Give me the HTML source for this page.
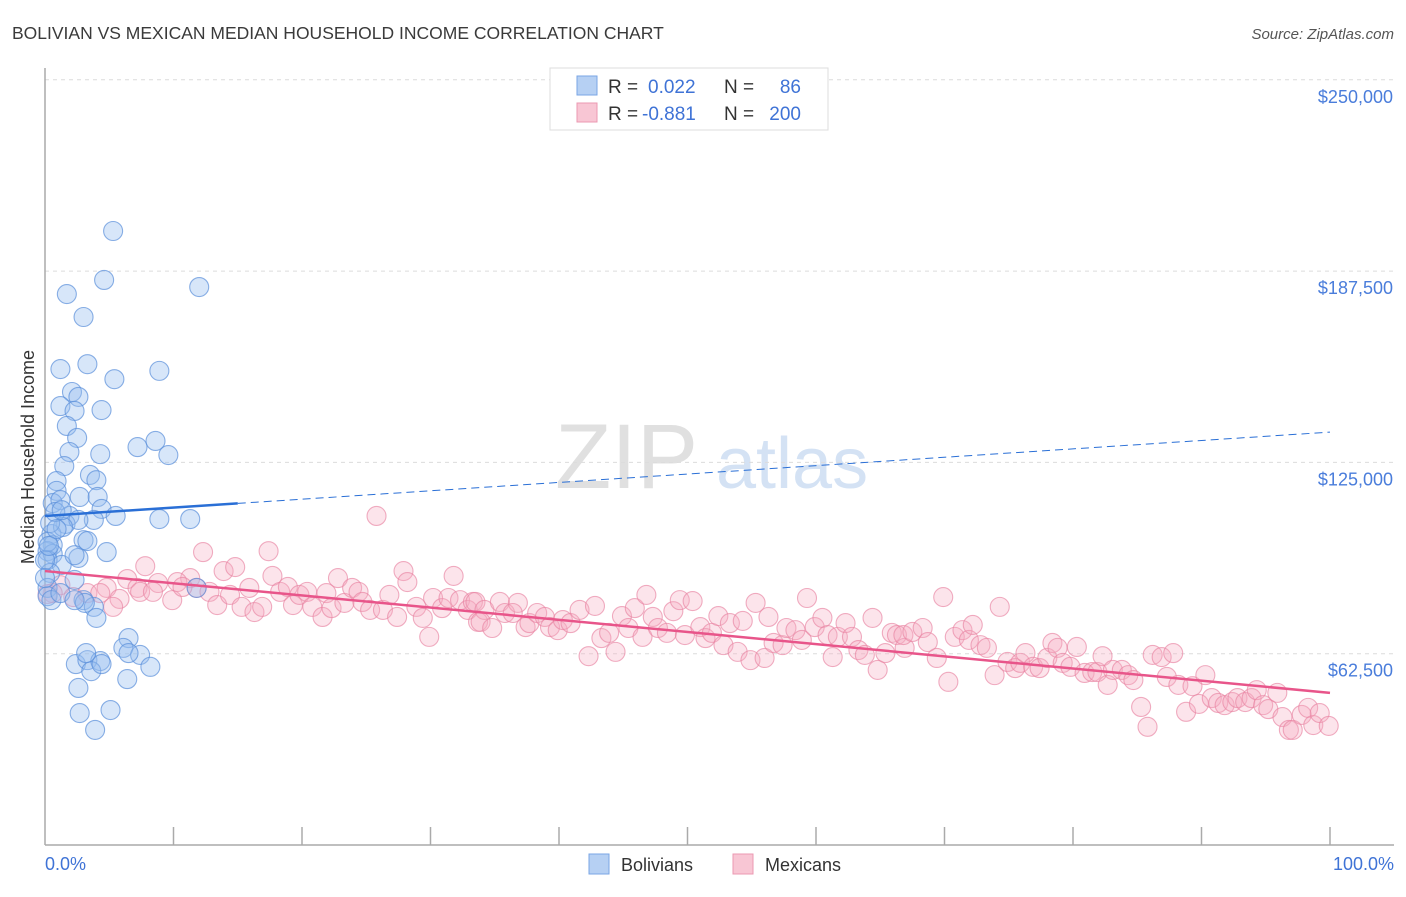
<!DOCTYPE html>
<html><head><meta charset="utf-8"><style>
body{margin:0;background:#fff;font-family:"Liberation Sans",sans-serif;}
svg text{font-family:"Liberation Sans",sans-serif;}
</style></head><body>
<svg id="chart" width="1406" height="892" viewBox="0 0 1406 892" xmlns="http://www.w3.org/2000/svg">
<text x="12" y="39" font-size="17.5" fill="#3a3a3a">BOLIVIAN VS MEXICAN MEDIAN HOUSEHOLD INCOME CORRELATION CHART</text>
<text x="1394" y="39" font-size="15" fill="#555" font-style="italic" text-anchor="end">Source: ZipAtlas.com</text>
<g>
<text x="555" y="488" font-size="92" fill="#d4d4d4" font-family="Liberation Serif" opacity="0.7">ZIP</text>
<text x="716" y="488" font-size="72" fill="#b8d0ee" opacity="0.6">atlas</text>
</g>
<g id="grid"></g>
<g id="axes"></g>
<g id="marks"></g>
<text transform="translate(34,457) rotate(-90)" font-size="18" fill="#333" text-anchor="middle">Median Household Income</text>
<text x="45" y="870" font-size="18" fill="#3f73d6">0.0%</text>
<text x="1394" y="870" font-size="18" fill="#3f73d6" text-anchor="end">100.0%</text>
<g>
<rect x="550" y="68" width="278" height="62" fill="#fff" stroke="#ddd"/>
<rect x="577" y="76" width="20" height="19" fill="#b6d0f3" stroke="#7aa6e4"/>
<rect x="577" y="103" width="20" height="19" fill="#f8c6d4" stroke="#eb98b2"/>
<text x="608" y="93" font-size="19" fill="#333">R =</text>
<text x="648" y="93" font-size="19" fill="#3f73d6">0.022</text>
<text x="724" y="93" font-size="19" fill="#333">N =</text>
<text x="801" y="93" font-size="19" fill="#3f73d6" text-anchor="end">86</text>
<text x="608" y="120" font-size="19" fill="#333">R =</text>
<text x="642" y="120" font-size="19" fill="#3f73d6">-0.881</text>
<text x="724" y="120" font-size="19" fill="#333">N =</text>
<text x="801" y="120" font-size="19" fill="#3f73d6" text-anchor="end">200</text>
</g>
<g>
<rect x="589" y="854" width="20" height="20" fill="#b6d0f3" stroke="#7aa6e4"/>
<text x="621" y="871" font-size="18" fill="#333">Bolivians</text>
<rect x="733" y="854" width="20" height="20" fill="#f8c6d4" stroke="#eb98b2"/>
<text x="765" y="871" font-size="18" fill="#333">Mexicans</text>
</g>
</svg>
<script>
const yTicks=[62500,125000,187500,250000];
const yTickLabels=["$62,500","$125,000","$187,500","$250,000"];
const xTicks=[10,20,30,40,50,60,70,80,90,100];
const bolX=[5.3,4.6,1.7,12.0,3.0,1.2,3.3,5.4,8.9,2.1,2.6,1.2,4.4,2.3,1.7,2.5,8.6,7.2,1.9,9.6,4.3,1.5,3.5,0.9,4.0,0.9,2.7,4.1,0.6,1.2,4.4,5.5,1.9,8.9,11.3,3.8,1.6,2.6,0.5,1.4,0.6,3.0,3.3,0.2,4.8,0.6,0.2,2.6,1.3,0.4,2.3,0.2,0.2,3.0,3.8,4.0,0.5,1.2,2.3,6.5,6.1,7.4,2.4,3.3,4.3,8.2,3.6,2.6,6.4,4.4,2.7,5.1,3.9,6.5,3.2,0,0,0.4,0.8,0.2,0.9,3.1,0.3,11.8,2.3,1.3];
const bolY=[200.6,184.6,180.0,182.3,172.5,155.5,157.1,152.2,154.9,148.0,146.4,143.4,142.1,141.8,136.9,133.0,132.0,130.0,128.4,127.4,127.7,123.8,120.9,118.9,119.2,115.7,113.7,113.7,111.7,112.7,109.8,107.5,107.5,106.5,106.5,106.2,104.9,106.2,101.6,103.9,98.0,99.6,99.3,96.0,95.7,95.1,93.1,93.8,91.5,88.9,86.6,84.0,81.3,80.0,77.8,74.2,80.0,82.3,94.7,67.6,64.4,62.1,59.1,60.4,60.1,58.2,56.8,51.3,54.2,59.1,43.1,44.1,37.6,62.7,62.7,93.1,87.2,105.2,108.8,99.0,103.2,79.1,97.7,84.0,80.0,109.4];
const mexX=[25.8,12.3,17.4,13.9,14.8,7.8,17.7,22.8,27.9,28.2,31.8,6.4,11.3,10.3,8.8,11.8,4.8,1.2,0.6,2.2,3.3,4.3,5.8,5.3,7.2,7.4,8.4,9.9,10.7,12.8,13.4,14.4,15.3,15.9,16.3,16.9,18.3,18.9,19.3,19.8,20.4,20.8,21.6,21.9,22.3,23.3,23.9,24.4,24.7,25.3,26.3,26.8,27.4,28.9,29.4,29.9,30.2,30.9,31.4,32.3,32.9,33.3,33.7,
33.5,34.2,33.9,34.8,35.4,35.8,36.8,36.4,37.4,37.7,38.3,38.9,39.3,39.9,40.3,40.9,41.6,42.8,42.3,43.3,43.9,44.4,44.9,45.4,45.9,46.5,46.8,47.3,47.7,48.4,48.9,49.4,49.8,50.4,51.0,51.4,51.9,52.4,52.8,53.3,53.9,54.3,54.9,55.3,56.0,56.3,56.7,57.4,57.7,58.4,58.9,59.3,59.9,60.5,60.9,61.3,61.7,62.3,62.8,63.3,63.8,64.4,64.8,65.4,65.9,66.3,66.9,
69.9,74.3,66.8,67.5,68.3,68.7,69.4,70.3,70.8,71.4,71.9,72.2,72.8,73.3,73.9,74.9,75.5,75.9,76.3,76.9,77.4,78.0,78.4,78.8,79.2,79.8,80.3,80.9,81.5,81.9,82.3,82.7,83.1,83.8,84.3,84.7,85.3,85.8,86.2,86.9,87.3,87.8,88.2,88.8,89.3,89.8,90.3,90.8,91.3,91.8,92.4,92.8,93.4,93.9,94.3,94.8,95.2,95.9,96.3,96.8,97.1,97.8,98.3,98.7,99.2,99.9,0.2];
const mexY=[107.5,95.7,96.0,89.5,90.8,91.1,87.9,87.2,89.5,85.9,87.9,86.9,87.2,85.9,85.6,84.0,84.0,84.9,82.3,81.0,82.3,82.3,80.4,77.8,84.0,82.7,82.7,80.0,84.3,82.7,78.4,81.7,77.8,84.0,76.1,77.8,82.7,84.3,78.4,81.7,82.7,77.8,74.5,82.3,77.4,79.1,84.0,82.7,79.4,76.8,76.8,81.7,74.5,77.8,74.2,68.0,80.7,77.4,80.7,80.0,76.8,79.4,72.9,
79.4,76.8,72.9,70.9,79.4,75.8,79.1,75.8,71.2,72.5,75.8,74.5,71.2,70.2,73.5,72.5,76.8,78.1,61.7,67.6,69.3,63.1,74.8,70.9,77.4,68.0,81.7,74.5,70.9,69.3,76.4,80.0,68.6,79.7,71.2,67.6,69.3,74.8,65.3,72.5,63.1,73.2,60.4,79.1,61.1,74.5,66.0,65.3,70.9,70.2,67.0,80.7,71.2,74.2,68.6,61.4,68.0,72.5,68.0,63.7,62.1,74.2,57.2,62.7,69.3,68.6,64.4,
81.0,77.8,68.6,69.6,70.9,66.3,61.1,53.3,68.0,70.2,67.0,71.9,65.3,64.4,55.5,59.8,57.8,59.5,62.7,58.2,57.8,61.1,66.0,64.4,59.5,58.2,64.7,56.2,56.5,56.5,61.7,52.3,57.2,57.2,55.5,53.9,45.1,38.6,62.1,61.4,54.9,62.7,52.3,43.5,51.9,46.1,55.5,48.0,46.4,45.7,46.7,48.0,46.7,48.0,50.6,45.7,44.4,49.7,41.8,37.6,37.6,42.5,44.8,39.2,43.1,38.9,82.0];
const bolTrend=[107.5,134.9];
const mexTrend=[89.5,49.7];
const bolSolidEnd=15;

const X0=45,X1=1330,Y0=845,YPER=191.3/62500;
function xs(p){return X0+(X1-X0)*p/100;}
function ys(v){return Y0-v*YPER;}
const NS="http://www.w3.org/2000/svg";
function mk(tag,attrs,parent){const e=document.createElementNS(NS,tag);for(const k in attrs)e.setAttribute(k,attrs[k]);parent.appendChild(e);return e;}
const grid=document.getElementById('grid'),axes=document.getElementById('axes'),marks=document.getElementById('marks');
yTicks.forEach((t,i)=>{
  const l=mk('line',{x1:45,x2:1394,y1:ys(t),y2:ys(t),stroke:'#dcdcdc','stroke-dasharray':'4,4'},grid);
  
  
  const tx=mk('text',{x:1393,y:ys(t)+23,'font-size':18,fill:'#4a7ddb','text-anchor':'end'},grid);
  tx.textContent=yTickLabels[i];
  
  
});
let a=mk('line',{x1:45,x2:45,y1:68,y2:845,stroke:'#aaa','stroke-width':1.5},axes);


a=mk('line',{x1:45,x2:1394,y1:845,y2:845,stroke:'#aaa','stroke-width':1.5},axes);


xTicks.forEach(t=>{
  const k=mk('line',{x1:xs(t),x2:xs(t),y1:827,y2:845,stroke:'#aaa','stroke-width':1.5},axes);
  
  
});
mexX.forEach((x,i)=>{
  const c=mk('circle',{cx:xs(x),cy:ys(mexY[i]*1000),r:9.5,fill:'rgba(246,170,194,0.32)',stroke:'rgba(232,130,162,0.65)','stroke-width':1.1},marks);
  
  
});
bolX.forEach((x,i)=>{
  const c=mk('circle',{cx:xs(x),cy:ys(bolY[i]*1000),r:9.5,fill:'rgba(150,190,240,0.38)',stroke:'rgba(90,142,218,0.7)','stroke-width':1.1},marks);
  
  
});
function trendAt(tr,p){return tr[0]+(tr[1]-tr[0])*p/100;}
let t=mk('line',{x1:xs(0),y1:ys(trendAt(bolTrend,0)*1000),x2:xs(bolSolidEnd),y2:ys(trendAt(bolTrend,bolSolidEnd)*1000),stroke:'#2a6fd6','stroke-width':2.5},marks);


t=mk('line',{x1:xs(bolSolidEnd),y1:ys(trendAt(bolTrend,bolSolidEnd)*1000),x2:xs(100),y2:ys(trendAt(bolTrend,100)*1000),stroke:'#2a6fd6','stroke-width':1,'stroke-dasharray':'8,5'},marks);


t=mk('line',{x1:xs(0),y1:ys(mexTrend[0]*1000),x2:xs(100),y2:ys(mexTrend[1]*1000),stroke:'#e8558a','stroke-width':2.5},marks);


</script>
</body></html>
